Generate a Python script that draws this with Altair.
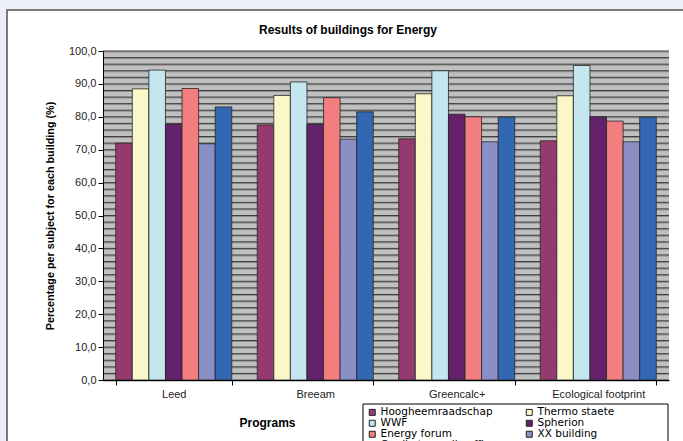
import altair as alt
import pandas as pd

programs = ["Leed", "Breeam", "Greencalc+", "Ecological footprint"]
buildings = ["Hoogheemraadschap", "Thermo staete", "WWF", "Spherion",
             "Energy forum", "XX building", "Cardle to cardle office"]
colors = ["#943a6e", "#faf7c9", "#c4e6ee", "#63206b", "#f27e80", "#8c8fc6", "#3267b3"]
# legend is filled column by column, so this order reads row-wise like the reference
legend_order = ["Hoogheemraadschap", "WWF", "Energy forum", "Cardle to cardle office",
                "Thermo staete", "Spherion", "XX building"]

hoog = [72.0, 77.5, 73.3, 72.7]
thermo = [88.5, 86.5, 87.0, 86.4]
wwf = [94.2, 90.6, 94.0, 95.6]
spherion = [77.7, 77.7, 80.8, 80.0]
energy = [88.6, 85.8, 80.0, 78.7]
xx = [71.8, 73.2, 72.4, 72.4]
cardle = [83.0, 81.5, 79.9, 79.9]

y_ticks = [0, 10, 20, 30, 40, 50, 60, 70, 80, 90, 100]
grid_values = [0, 2, 4, 6, 8, 10, 12, 14, 16, 18, 20, 22, 24, 26, 28, 30, 32, 34, 36, 38,
               40, 42, 44, 46, 48, 50, 52, 54, 56, 58, 60, 62, 64, 66, 68, 70, 72, 74, 76,
               78, 80, 82, 84, 86, 88, 90, 92, 94, 96, 98, 100]

rows = []
for b, vals in zip(buildings, [hoog, thermo, wwf, spherion, energy, xx, cardle]):
    for p, v in zip(programs, vals):
        rows.append({"program": p, "building": b, "value": v})
df = pd.DataFrame(rows)

color_map = dict(zip(buildings, colors))
legend_colors = [color_map[b] for b in legend_order]

W, H = 566, 329
FONT = "Liberation Sans"

yaxis = alt.Axis(values=y_ticks,
                 labelExpr="replace(format(datum.value, '.1f'), '.', ',')",
                 grid=False, tickSize=5, tickColor="black", domainColor="black",
                 labelFont=FONT, labelFontSize=11, labelColor="#222222", labelPadding=2,
                 title="Percentage per subject for each building (%)",
                 titleFont=FONT, titleFontSize=10.8, titleFontWeight="bold",
                 titleColor="black", titlePadding=13, zindex=1)
yscale = alt.Scale(domain=[0, 100], nice=False)

one = pd.DataFrame({"k": [0]})
frame = alt.Chart(one).mark_rect(fill="white", stroke="#505050", strokeWidth=1.5).encode(
    x=alt.value(-96), x2=alt.value(W + 40), y=alt.value(-41), y2=alt.value(H + 90))
legend_box = alt.Chart(one).mark_rect(fill="white", stroke="black", strokeWidth=1).encode(
    x=alt.value(260), x2=alt.value(565), y=alt.value(353), y2=alt.value(H + 100))
title_text = alt.Chart(one).mark_text(
    text="Results of buildings for Energy", font=FONT, fontSize=12, fontWeight="bold",
    align="center", baseline="middle", color="black").encode(
    x=alt.value(245), y=alt.value(-21))
plotbg = alt.Chart(one).mark_rect(fill="#c0c0c0").encode(
    x=alt.value(0), x2=alt.value(W), y=alt.value(0), y2=alt.value(H))

gdf = pd.DataFrame({"g": grid_values})
shadow = alt.Chart(gdf).mark_rule(color="#8e8e8e", strokeWidth=1, yOffset=1).encode(
    x=alt.value(0), x2=alt.value(W),
    y=alt.Y("g:Q", scale=yscale, axis=yaxis))
gridl = alt.Chart(gdf).mark_rule(color="#3c3c3c", strokeWidth=1).encode(
    x=alt.value(0), x2=alt.value(W),
    y=alt.Y("g:Q", scale=yscale, axis=yaxis))

bars = alt.Chart(df).mark_bar(stroke="#262626", strokeWidth=0.8).encode(
    x=alt.X("program:N", sort=programs,
            scale=alt.Scale(paddingInner=0.18, paddingOuter=0.09),
            axis=alt.Axis(title="Programs", labelAngle=0, tickBand="extent", tickSize=5,
                          tickColor="black", domainColor="black", labelPadding=3,
                          labelFont=FONT, labelFontSize=11, labelColor="#222222",
                          titleFont=FONT, titleFontSize=12, titleFontWeight="bold",
                          titleColor="black", titleX=164, titleY=42,
                          titleBaseline="middle", zindex=1)),
    xOffset=alt.XOffset("building:N", sort=buildings,
                        scale=alt.Scale(paddingInner=0, paddingOuter=0)),
    y=alt.Y("value:Q", scale=yscale, axis=yaxis),
    color=alt.Color("building:N", sort=legend_order,
                    scale=alt.Scale(domain=legend_order, range=legend_colors),
                    legend=alt.Legend(title=None, orient="none", legendX=264, legendY=356,
                                      columns=2, gridAlign="all", columnPadding=27,
                                      rowPadding=0, symbolType="square", symbolSize=36,
                                      symbolStrokeColor="#222222", symbolStrokeWidth=1,
                                      labelFont="DejaVu Sans", labelFontSize=10.5,
                                      labelColor="black", padding=0,
                                      symbolOffset=0, labelOffset=3)),
)

chart = alt.layer(frame, legend_box, title_text, plotbg, shadow, gridl, bars).properties(
    width=W, height=H,
    autosize=alt.AutoSizeParams(type="none"),
    padding={"left": 103, "top": 51, "right": 14, "bottom": 61},
    background="#eceef8",
).configure_view(stroke=None)

chart.save("out.html", embed_options={"renderer": "svg", "actions": False})
